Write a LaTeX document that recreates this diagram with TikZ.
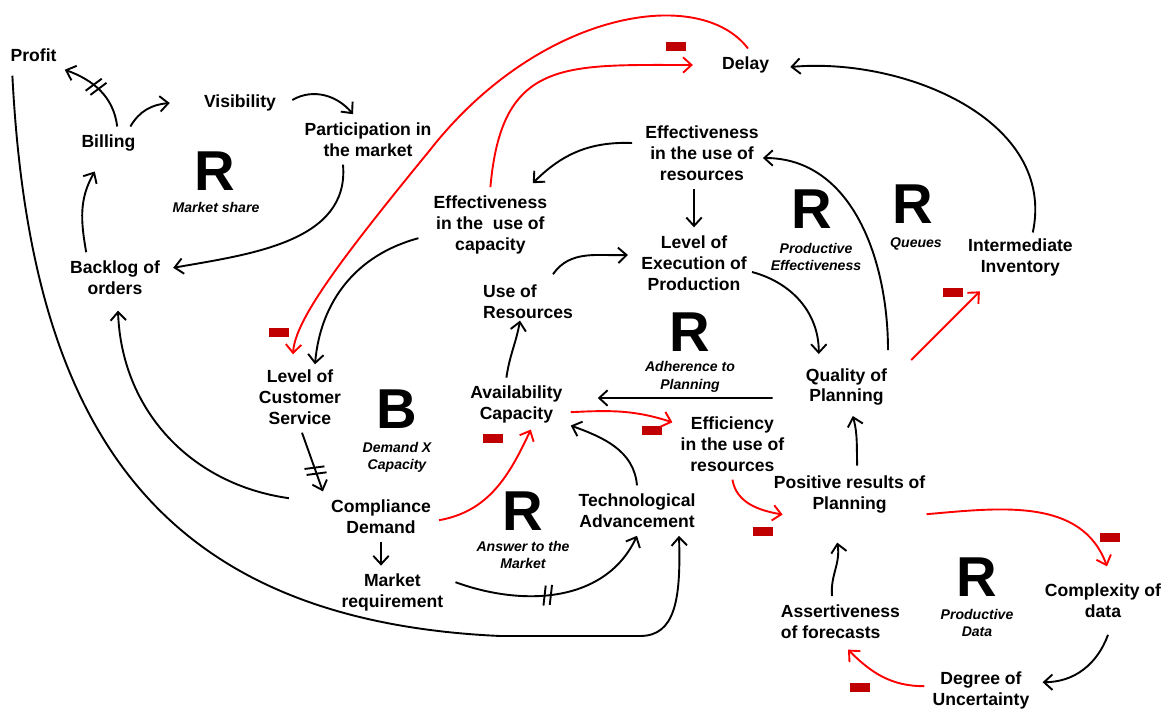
\documentclass[tikz,border=0pt]{standalone}
\usepackage{fontspec}
\setmainfont{Liberation Sans}
\usetikzlibrary{arrows.meta,decorations.markings}

\definecolor{minusred}{HTML}{C00000}

\begin{document}
\begin{tikzpicture}[
    varnode/.style={align=center, inner sep=0.2cm, font=\bfseries\fontsize{12.5}{14.9}\selectfont},
    loopsign/.style={inner sep=0pt, font=\bfseries\fontsize{40}{40}\selectfont},
    looplabel/.style={align=center, inner sep=0pt, font=\bfseries\itshape\fontsize{10}{12.75}\selectfont},
    negsign/.style={fill=minusred, minimum width=0.5cm, minimum height=0.225cm, inner sep=0pt},
    causal/.style={line width=1.35pt, -{Straight Barb[length=6pt,width=11pt]}},
    redcausal/.style={causal, red},
    hashmark/.style={postaction={decorate, decoration={markings,
        mark=at position #1 with {\draw[line width=1.35pt, -] (-3pt,-7pt) -- (0pt,7pt) (1.5pt,-7pt) -- (4.5pt,7pt);}}}}
]
    \useasboundingbox (0,0) rectangle (29.2,17.825);

    \node[varnode] (profit) at (0.84,16.45) {Profit};
    \node[varnode] (billing) at (2.71,14.25) {Billing};
    \node[varnode] (visibility) at (6.00,15.25) {Visibility};
    \node[varnode] (participation) at (9.20,14.34) {Participation in\\the market};
    \node[varnode] (backlog) at (2.875,10.89) {Backlog of\\orders};
    \node[varnode] (effcap) at (12.26,12.21) {Effectiveness\\in the~ use of\\capacity};
    \node[varnode] (delay) at (18.64,16.20) {Delay};
    \node[varnode] (effres) at (17.55,14.00) {Effectiveness\\in the use of\\resources};
    \node[varnode] (levelexec) at (17.35,11.25) {Level of\\Execution of\\Production};
    \node[varnode] (inventory) at (25.51,11.39) {Intermediate\\Inventory};
    \node[varnode, align=left] (useres) at (13.20,10.29) {Use of\\Resources};
    \node[varnode] (service) at (7.50,7.90) {Level of\\Customer\\Service};
    \node[varnode] (availability) at (12.91,7.71) {Availability\\Capacity};
    \node[varnode] (quality) at (21.16,8.15) {Quality of\\Planning};
    \node[varnode] (efficiency) at (18.31,6.725) {Efficiency\\in the use of\\resources};
    \node[varnode] (compliance) at (9.525,4.91) {Compliance\\Demand};
    \node[varnode] (technology) at (15.925,5.06) {Technological\\Advancement};
    \node[varnode] (positive) at (21.24,5.46) {Positive results of\\Planning};
    \node[varnode] (marketreq) at (9.81,3.01) {Market\\requirement};
    \node[varnode] (complexity) at (27.575,2.81) {Complexity of\\data};
    \node[varnode, align=left] (assertiveness) at (21.01,2.29) {Assertiveness\\of forecasts};
    \node[varnode] (uncertainty) at (24.525,0.56) {Degree of\\Uncertainty};

    \node[loopsign] (rshare) at (5.375,13.55) {R};
    \node[looplabel] (lshare) at (5.40,12.63) {Market share};
    \node[loopsign] (rprodeff) at (20.30,12.60) {R};
    \node[looplabel] (lprodeff) at (20.40,11.40) {Productive\\Effectiveness};
    \node[loopsign] (rqueues) at (22.825,12.72) {R};
    \node[looplabel] (lqueues) at (22.90,11.73) {Queues};
    \node[loopsign] (radherence) at (17.25,9.53) {R};
    \node[looplabel] (ladherence) at (17.25,8.40) {Adherence to\\Planning};
    \node[loopsign] (bdemand) at (9.925,7.60) {B};
    \node[looplabel] (ldemand) at (9.925,6.39) {Demand X\\Capacity};
    \node[loopsign] (ranswer) at (13.075,5.05) {R};
    \node[looplabel] (lanswer) at (13.075,3.95) {Answer to the\\Market};
    \node[loopsign] (rdata) at (24.425,3.40) {R};
    \node[looplabel] (ldata) at (24.425,2.25) {Productive\\Data};

    \node[negsign] (m1) at (16.90,16.65) {};
    \node[negsign] (m2) at (6.975,9.525) {};
    \node[negsign] (m3) at (23.825,10.50) {};
    \node[negsign] (m4) at (12.325,6.875) {};
    \node[negsign] (m5) at (16.30,7.075) {};
    \node[negsign] (m6) at (19.075,4.55) {};
    \node[negsign] (m7) at (27.75,4.40) {};
    \node[negsign] (m8) at (21.50,0.65) {};

    \draw[causal, hashmark=0.55] ([xshift=0.22cm]billing.north) to[out=97, in=-20] (profit.south east);
    \draw[causal] ([xshift=0.55cm]billing.north) to[out=60, in=185] ([xshift=-0.65cm]visibility.west);
    \draw[causal] ([shift={(0.2,0.075)}]visibility.east) to[out=30, in=130] ([xshift=-0.375cm]participation.north);
    \draw[causal] ([xshift=-0.625cm]participation.south) to[out=-85, in=10] ([shift={(0.125,0.24)}]backlog.east);
    \draw[causal] ([xshift=-0.72cm]backlog.north) to[out=100, in=240] ([shift={(-0.34,-0.3)}]billing.south);
    \draw[causal] ([shift={(0.25,-0.15)}]profit.south west) .. controls (0.75,7.325) and (3.75,2.325) .. (12.5,1.925)
        -- (16.0,1.925) .. controls (16.875,1.925) and (17.025,2.825) .. ([xshift=1.05cm]technology.south);
    \draw[causal, hashmark=0.45] ([shift={(0.1,0.26)}]marketreq.east) to[out=-20, in=-115] (technology.south);
    \draw[causal] (technology.north) to[out=95, in=-20] ([yshift=0.15cm]availability.south east);
    \draw[causal] (compliance.south) -- (compliance.south |- marketreq.north);
    \draw[causal, hashmark=0.63] ([xshift=0.05cm]service.south) -- (compliance.north west);
    \draw[causal] ([shift={(-0.85,0.46)}]compliance.west) to[out=172, in=-88] ([shift={(0.075,-0.2)}]backlog.south);
    \draw[causal] ([xshift=-0.25cm]availability.north) to[out=82, in=-100] ([shift={(-0.2,0.15)}]useres.south);
    \draw[causal] ([shift={(0.625,0.05)}]useres.north) to[out=55, in=182] ([shift={(-0.125,0.2)}]levelexec.west);
    \draw[causal] (levelexec.north |- effres.south) -- (levelexec.north);
    \draw[causal] ([shift={(-0.125,0.25)}]effres.west) to[out=178, in=45] ([shift={(1.06,0.1)}]effcap.north);
    \draw[causal] ([shift={(-0.175,-0.34)}]effcap.west) to[out=195, in=85] ([shift={(0.375,-0.075)}]service.north);
    \draw[causal] ([shift={(-0.075,-0.225)}]levelexec.east) to[out=-15, in=90] ([shift={(-0.69,0.15)}]quality.north);
    \draw[causal] ([shift={(1.04,0.25)}]quality.north) to[out=90, in=0] ([shift={(-0.1,-0.125)}]effres.east);
    \draw[causal] ([shift={(-0.625,-0.275)}]quality.west) -- ([shift={(0.675,0.165)}]availability.east);
    \draw[causal] ([shift={(0.19,0.05)}]positive.north) to[out=92, in=-75] ([shift={(0.16,-0.05)}]quality.south);
    \draw[causal] ([xshift=-0.21cm]assertiveness.north) to[out=95, in=-80] ([shift={(-0.31,-0.525)}]positive.south);
    \draw[causal] ([shift={(0.125,-0.225)}]complexity.south) to[out=-110, in=0] ([shift={(0.125,0.21)}]uncertainty.east);
    \draw[causal] ([shift={(0.31,-0.05)}]inventory.north) to[out=78, in=5] ([shift={(0.325,-0.05)}]delay.east);

    \draw[redcausal] ([xshift=0.06cm]delay.north) .. controls (17.5,18.2) and (13.5,17.575) .. (10.75,14.075)
        .. controls (8.5,11.325) and (7.375,9.825) .. ([shift={(-0.175,0.175)}]service.north);
    \draw[redcausal] (effcap.north) to[out=85, in=180, looseness=1.4] ([xshift=-0.525cm]delay.west);
    \draw[redcausal] ([xshift=0.4cm]quality.north east) -- ([shift={(0.5,-0.175)}]inventory.south west);
    \draw[redcausal] ([yshift=-0.09cm]compliance.east) to[out=10, in=-115] ([shift={(0.36,0.05)}]availability.south);
    \draw[redcausal] ([yshift=-0.19cm]availability.east) to[out=3, in=162] ([yshift=-0.35cm]efficiency.north west);
    \draw[redcausal] (efficiency.south) to[out=-80, in=170] ([shift={(0.425,0.175)}]positive.south west);
    \draw[redcausal] ([shift={(-0.175,-0.49)}]positive.east) to[out=5, in=110] ([shift={(0.1,0.225)}]complexity.north);
    \draw[redcausal] ([yshift=0.11cm]uncertainty.west) to[out=180, in=-45] ([shift={(0.19,-0.075)}]assertiveness.south);
\end{tikzpicture}
\end{document}
